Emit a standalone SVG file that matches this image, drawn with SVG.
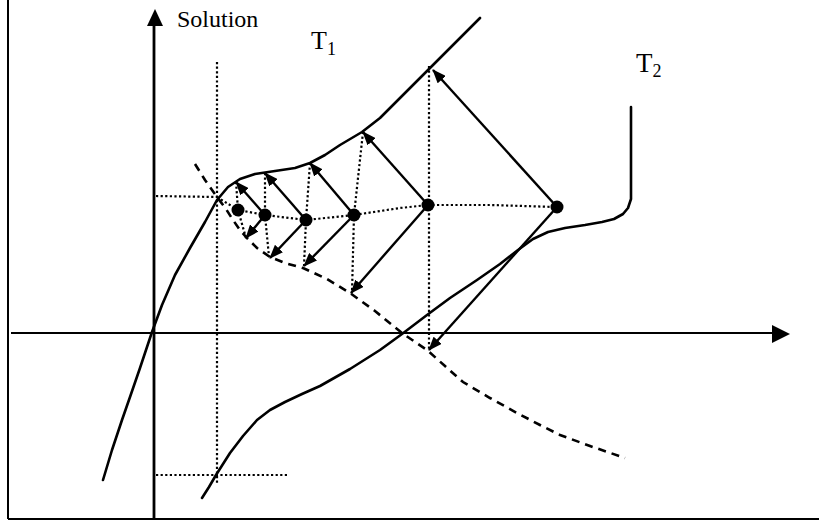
<svg xmlns="http://www.w3.org/2000/svg" width="819" height="526" viewBox="0 0 819 526">
<style>
.ax{stroke:#000;fill:none}
.cv{stroke:#000;stroke-width:2.6;fill:none;stroke-linejoin:round;stroke-linecap:round}
.dash{stroke:#000;stroke-width:2.6;fill:none;stroke-dasharray:8 6}
.dot{stroke:#000;stroke-width:2.2;fill:none;stroke-dasharray:2.2 2.4}
.arr{stroke:#000;stroke-width:2.4;fill:none;marker-end:url(#ah)}
.lbl{font-family:"Liberation Serif","Times New Roman",serif;fill:#000}
</style>
<defs>
<marker id="ah" viewBox="0 0 14 11" refX="13" refY="5.5" markerWidth="14" markerHeight="11" markerUnits="userSpaceOnUse" orient="auto"><path d="M0,0 L14,5.5 L0,11 z" fill="#000"/></marker>
</defs>
<rect width="819" height="526" fill="#fff"/>
<g id="frame">
<line class="ax" x1="8" y1="0" x2="8" y2="519" stroke-width="2"/>
<line class="ax" x1="8" y1="519" x2="819" y2="519" stroke-width="2"/>
</g>
<g id="axes">
<line class="ax" x1="154" y1="519" x2="154" y2="22" stroke-width="2.8"/>
<path d="M147,26 L155,9 L163,26 z" fill="#000"/>
<line class="ax" x1="11" y1="333" x2="774" y2="333" stroke-width="2"/>
<path d="M772,325 L790,334 L772,343 z" fill="#000"/>
</g>
<g id="labels">
<text class="lbl" x="177" y="27" font-size="24">Solution</text>
<text class="lbl" x="311" y="49" font-size="26">T<tspan font-size="18" dy="6">1</tspan></text>
<text class="lbl" x="636" y="72" font-size="27">T<tspan font-size="18" dy="5">2</tspan></text>
</g>
<g id="guides">
<line class="dot" x1="217" y1="62" x2="217" y2="483"/>
<line class="dot" x1="156" y1="196" x2="217" y2="197"/>
<line class="dot" x1="156" y1="475" x2="288" y2="475"/>
<polyline class="dot" points="217,197 238,210 265,215 306,220 354,215 400,208 428,205 490,205 556,207"/>
<polyline class="dot" points="236,182 238,210 246,238"/>
<polyline class="dot" points="265,173 265,215 269,257"/>
<polyline class="dot" points="310,163 306,220 304,266"/>
<polyline class="dot" points="363,132 354,215 352,292"/>
<line class="dot" x1="429" y1="66" x2="429" y2="350"/>
</g>
<g id="curve-T1">
<polyline class="cv" points="103,480 112,450 122,420 130,397 140,368 152,332 162,305 175,275 190,248 205,222 217,200 228,187 240,179 255,174 275,171 295,168 310,163 325,155 340,145 362,132 380,118 400,98 420,78 440,58 460,38 480,18"/>
</g>
<g id="curve-T2">
<polyline class="cv" points="202,498 209,487 216,475 230,453 243,436 257,420 270,410 285,402 302,394 320,386 350,369 380,350 402,334 427,315 450,298 477,280 500,264 518,250 533,239 548,232 565,228 585,225 602,222 614,219 623,214 628,208 631,199 631,107"/>
</g>
<g id="curve-dashed">
<polyline class="dash" points="195,164 205,180 217,197 226,209 233,220 240,230 247,238 257,248 270,257 285,263 303,268 327,279 350,293 375,311 402,333 427,350 445,366 463,382 490,398 517,413 540,425 560,435 590,446 625,458"/>
</g>
<g id="connectors">
<line class="arr" x1="265" y1="215" x2="236" y2="182"/>
<line class="arr" x1="265" y1="215" x2="246" y2="238"/>
<line class="arr" x1="306" y1="220" x2="265" y2="173"/>
<line class="arr" x1="306" y1="220" x2="270" y2="258"/>
<line class="arr" x1="354" y1="215" x2="310" y2="163"/>
<line class="arr" x1="354" y1="215" x2="304" y2="266"/>
<line class="arr" x1="428" y1="205" x2="363" y2="132"/>
<line class="arr" x1="428" y1="205" x2="351" y2="293"/>
<line class="arr" x1="557" y1="207" x2="433" y2="70"/>
<line class="arr" x1="557" y1="207" x2="429" y2="350"/>
</g>
<g id="node-1"><circle cx="238" cy="210" r="6.5"/></g>
<g id="node-2"><circle cx="265" cy="215" r="6.5"/></g>
<g id="node-3"><circle cx="306" cy="220" r="6.5"/></g>
<g id="node-4"><circle cx="354" cy="215" r="6.5"/></g>
<g id="node-5"><circle cx="428" cy="205" r="6.5"/></g>
<g id="node-6"><circle cx="557" cy="207" r="6.5"/></g>
</svg>
